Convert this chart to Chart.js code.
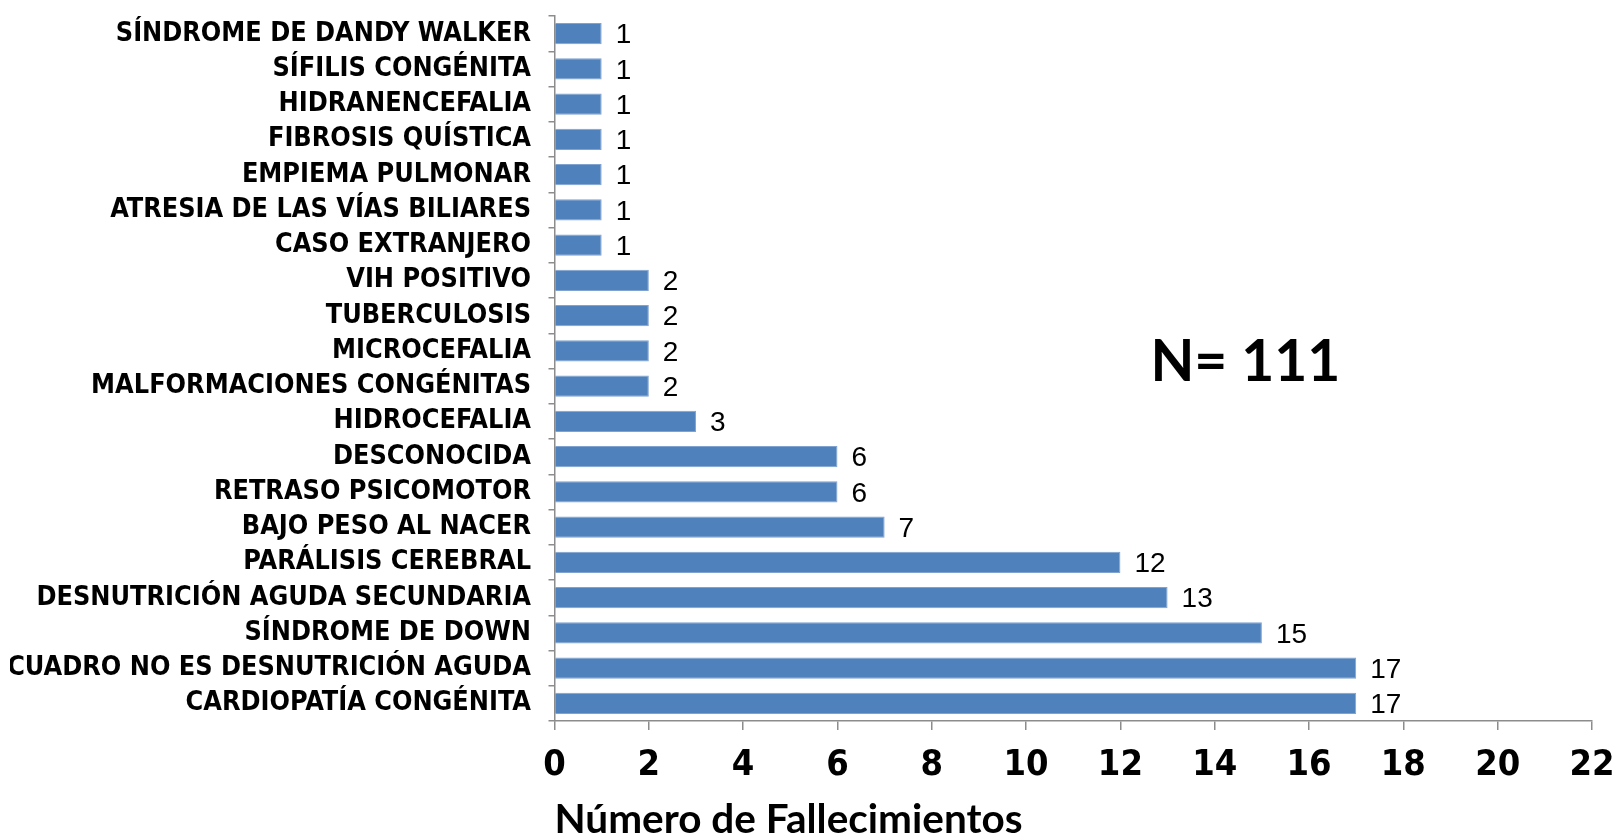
<!DOCTYPE html>
<html><head><meta charset="utf-8">
<script src="https://cdn.jsdelivr.net/npm/chart.js@4/dist/chart.umd.min.js"></script>
<style>html,body{margin:0;padding:0;background:#fff}#wrap{width:1616px;height:836px}</style>
</head><body><div id="wrap"><canvas id="c" width="1616" height="836"></canvas></div>
<script>
const categories = [
  'SÍNDROME DE DANDY WALKER',
  'SÍFILIS CONGÉNITA',
  'HIDRANENCEFALIA',
  'FIBROSIS QUÍSTICA',
  'EMPIEMA PULMONAR',
  'ATRESIA DE LAS VÍAS BILIARES',
  'CASO EXTRANJERO',
  'VIH POSITIVO',
  'TUBERCULOSIS',
  'MICROCEFALIA',
  'MALFORMACIONES CONGÉNITAS',
  'HIDROCEFALIA',
  'DESCONOCIDA',
  'RETRASO PSICOMOTOR',
  'BAJO PESO AL NACER',
  'PARÁLISIS CEREBRAL',
  'DESNUTRICIÓN AGUDA SECUNDARIA',
  'SÍNDROME DE DOWN',
  'CUADRO NO ES DESNUTRICIÓN AGUDA',
  'CARDIOPATÍA CONGÉNITA'
];
const deaths = [1, 1, 1, 1, 1, 1, 1, 2, 2, 2, 2, 3, 6, 6, 7, 12, 13, 15, 17, 17];
const xTicks = [0, 2, 4, 6, 8, 10, 12, 14, 16, 18, 20, 22];
const axisTitle = 'Número de Fallecimientos';
const noteText = 'N= 111';

const NARROW = '"Liberation Sans Narrow", "DejaVu Sans Condensed", "Liberation Sans", Arial, sans-serif';
const AXIS_COLOR = '#8c8c8c';

const valueLabels = {
  id: 'valueLabels',
  afterDatasetsDraw(chart) {
    const ctx = chart.ctx;
    const meta = chart.getDatasetMeta(0);
    ctx.save();
    ctx.font = '28px "Liberation Sans", Arial, sans-serif';
    ctx.fillStyle = '#000';
    ctx.textAlign = 'left';
    ctx.textBaseline = 'middle';
    meta.data.forEach((bar, i) => {
      ctx.fillText(String(chart.data.datasets[0].data[i]), bar.x + 14, bar.y + 2);
    });
    ctx.restore();
  }
};

const noteLabel = {
  id: 'noteLabel',
  afterDraw(chart) {
    const ctx = chart.ctx;
    const x = chart.scales.x.getPixelForValue(14.65);
    const y = chart.scales.y.getPixelForValue(9.33);
    ctx.save();
    ctx.font = 'bold 57px Lato, "Open Sans", sans-serif';
    ctx.fillStyle = '#000';
    ctx.textAlign = 'center';
    ctx.textBaseline = 'middle';
    ctx.fillText(noteText, x, y);
    ctx.restore();
  }
};

new Chart(document.getElementById('c'), {
  type: 'bar',
  data: {
    labels: categories,
    datasets: [{
      data: deaths,
      backgroundColor: '#4F81BD',
      borderColor: '#7FA2D0',
      borderWidth: 1,
      barPercentage: 0.6,
      categoryPercentage: 1
    }]
  },
  options: {
    indexAxis: 'y',
    responsive: false,
    animation: false,
    devicePixelRatio: 1,
    layout: { padding: { top: 16, right: 24, left: 10, bottom: 0 } },
    plugins: {
      legend: { display: false },
      tooltip: { enabled: false }
    },
    scales: {
      x: {
        min: 0,
        max: 22,
        afterBuildTicks: (s) => { s.ticks = xTicks.map(v => ({ value: v })); },
        afterFit: (s) => { s.height = 115; s.paddingRight = 0; s.paddingLeft = 0; },
        grid: { display: true, drawOnChartArea: false, drawTicks: true, tickLength: 9, color: AXIS_COLOR, lineWidth: 1.5 },
        border: { display: true, color: AXIS_COLOR, width: 1.5 },
        ticks: { color: '#000', padding: 14, maxRotation: 0, font: { family: NARROW, size: 36, weight: 'bold' } },
        title: {
          display: true,
          text: axisTitle,
          align: 'start',
          color: '#000',
          padding: { top: 0, bottom: 0 },
          font: { family: 'Lato, "Open Sans", sans-serif', size: 40.5, weight: 'bold', lineHeight: 0.8 }
        }
      },
      y: {
        afterFit: (s) => { s.width = 544.5; s.paddingTop = 0; s.paddingBottom = 0; },
        grid: { display: true, offset: true, drawOnChartArea: false, drawTicks: true, tickLength: 6, color: AXIS_COLOR, lineWidth: 1.5 },
        border: { display: true, color: AXIS_COLOR, width: 1.5 },
        ticks: { color: '#000', padding: 17.5, autoSkip: false, font: { family: NARROW, size: 26.8, weight: 'bold' } }
      }
    }
  },
  plugins: [valueLabels, noteLabel]
});
</script>
</body></html>
